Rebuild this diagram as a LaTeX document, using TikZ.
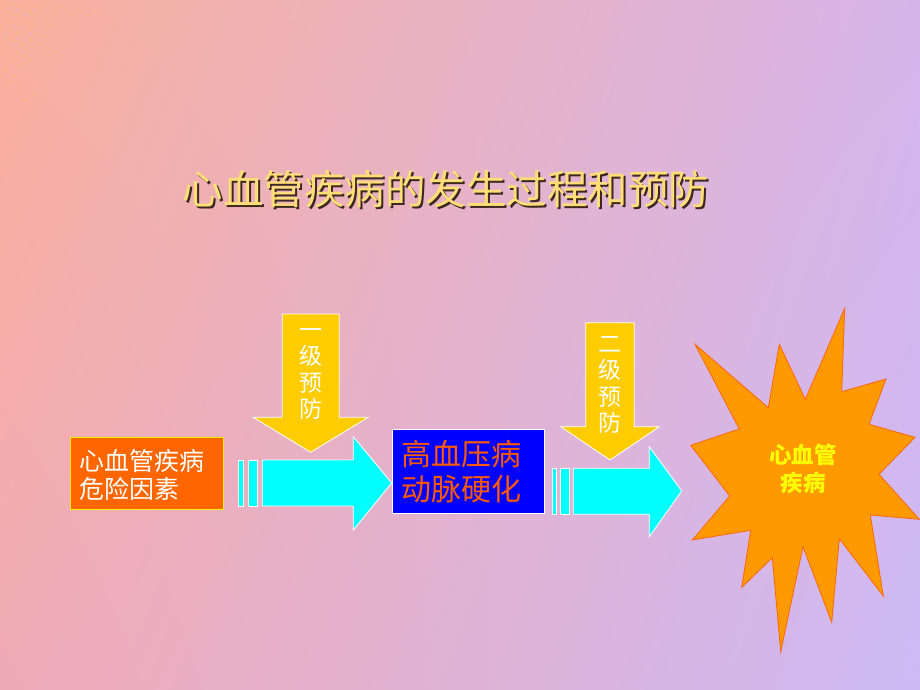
\documentclass[tikz,border=0pt]{standalone}
\usepackage{fontspec}
\usetikzlibrary{shadings}
\setmainfont{Noto Sans CJK SC}
\newfontfamily\cjk{Noto Sans CJK SC}
\definecolor{bgTL}{RGB}{250,176,155}
\definecolor{bgTR}{RGB}{215,181,235}
\definecolor{bgBL}{RGB}{240,170,182}
\definecolor{bgBR}{RGB}{205,186,245}
\definecolor{titleC}{RGB}{255,222,120}
\definecolor{shadowC}{RGB}{60,40,30}
\definecolor{orangeBox}{RGB}{255,102,0}
\definecolor{blueBox}{RGB}{0,0,255}
\definecolor{redText}{RGB}{255,90,0}
\definecolor{arrowCyan}{RGB}{0,255,255}
\definecolor{arrowGold}{RGB}{255,204,0}
\definecolor{starFill}{RGB}{255,153,0}
\definecolor{starLine}{RGB}{255,102,0}
\definecolor{starText}{RGB}{255,255,0}
\definecolor{dotY}{RGB}{240,200,90}
\definecolor{dotL}{RGB}{210,180,230}
\newcommand{\titletext}{心血管疾病的发生过程和预防}
\tikzset{
  cyanarrow/.style={fill=arrowCyan, draw=white, line width=0.8pt},
  goldarrow/.style={fill=arrowGold, draw=white, line width=0.8pt},
  boxone/.style={fill=orangeBox, draw=yellow, line width=0.8pt, anchor=north west, inner sep=0pt},
  boxtwo/.style={fill=blueBox, draw=white, line width=0.8pt, anchor=north west, inner sep=0pt},
  vtext/.style={text=white, font=\fontsize{23}{26.5}\selectfont, align=center, inner sep=0pt},
}
\begin{document}
\begin{tikzpicture}[x=1pt,y=-1pt]
\useasboundingbox (0,0) rectangle (920,690);
\shade[upper left=bgTL, upper right=bgTR, lower left=bgBL, lower right=bgBR] (0,0) rectangle (920,690);
% speckles top-left
\foreach \px/\py in {4/5,12/4,20/7,28/3,36/6,44/5,52/8,60/6,68/9,8/12,16/14,24/11,32/15,40/13,48/16,56/14,64/17,5/20,13/22,21/19,29/23,37/21,45/24,53/26,3/28,11/30,19/33,27/29,35/34,43/36,7/38,15/41,23/44,31/40,9/48,17/52,25/56,13/61,21/66,6/70,14/76,10/82,31/12,72/14,80/10,88/16,96/12,40/44,48/48,56/52,30/60,18/88,34/94,26/100,44/18,36/26}
  \fill[dotY] (\px,\py) circle (0.9);
\foreach \px/\py in {10/8,18/10,26/15,34/10,42/18,14/26,22/28,30/33,6/34,18/38,26/40,12/46,20/50,38/30}
  \fill[dotL] (\px,\py) circle (0.9);
% title with shadow
\node (title) [font=\fontsize{40.5}{48}\selectfont, inner sep=0pt] at (446,190)
  {\rlap{\kern2pt\raisebox{-2pt}{\textcolor{shadowC}{\titletext}}}\textcolor{titleC}{\titletext}};
% box 1
\node (risk) [boxone, minimum width=153pt, minimum height=72pt] at (70,437) {};
\node (risktext) [text=white, font=\fontsize{25}{28}\selectfont, align=left, anchor=west, inner sep=0pt] at (79,475) {心血管疾病\\危险因素};
% arrow 1
\fill[arrowCyan] (238.5,460) rectangle (243.5,506);
\fill[arrowCyan] (248.5,460) rectangle (257.5,506);
\draw[white, line width=0.6pt] (238.5,460) rectangle (243.5,506) (248.5,460) rectangle (257.5,506);
\draw[cyanarrow] (262.3,460) -- (353.3,460) -- (353.3,436.7) -- (391.7,483) -- (353.3,530) -- (353.3,506) -- (262.3,506) -- cycle;
\draw[goldarrow] (282.3,314) -- (339.3,314) -- (339.3,417.3) -- (368.3,417.3) -- (310.7,452.3) -- (253.3,417.3) -- (282.3,417.3) -- cycle;
\node (prev1) [vtext] at (311,374) {一\\级\\预\\防};
% box 2
\node (disease) [boxtwo, minimum width=152.6pt, minimum height=83.4pt] at (391.7,429.3) {};
\node (distext) [text=redText, font=\fontsize{30}{35}\selectfont, align=left, anchor=west, inner sep=0pt] at (401,472) {高血压病\\动脉硬化};
% arrow 2
\fill[arrowCyan] (552.3,468.3) rectangle (556,514.3);
\fill[arrowCyan] (560.7,468.3) rectangle (569,514.3);
\draw[white, line width=0.6pt] (552.3,468.3) rectangle (556,514.3) (560.7,468.3) rectangle (569,514.3);
\draw[cyanarrow] (573.3,468.3) -- (649.3,468.3) -- (649.3,446.7) -- (681.7,491) -- (649.3,536.7) -- (649.3,514.3) -- (573.3,514.3) -- cycle;
\draw[goldarrow] (585.7,322.7) -- (634.3,322.7) -- (634.3,426.7) -- (659.3,426.7) -- (610,460) -- (560.7,426.7) -- (585.7,426.7) -- cycle;
\node (prev2) [vtext] at (610,385) {二\\级\\预\\防};
% star
\draw[fill=starFill, draw=starLine, line width=0.8pt]
  (695,344.3) -- (768.3,407.7) -- (779.3,344.3) -- (805.3,399.3) -- (844.7,308.3) -- (841.7,391.7) -- (886,379) -- (869,424.3) -- (915,437.3) -- (879,474.3) -- (919.3,519.3) -- (870.3,515) -- (883.3,596) -- (839.3,538.7) -- (831.7,622.3) -- (803,546.7) -- (780.7,651.7) -- (772.3,557.7) -- (741.7,587.3) -- (750.7,530.3) -- (692.3,540) -- (729.7,496) -- (690.7,445.3) -- (739.3,429) -- cycle;
\node (cvd) [text=starText, font=\fontsize{22.5}{28}\selectfont\bfseries, align=center, inner sep=0pt] at (803,469) {心血管\\疾病};
\end{tikzpicture}
\end{document}
